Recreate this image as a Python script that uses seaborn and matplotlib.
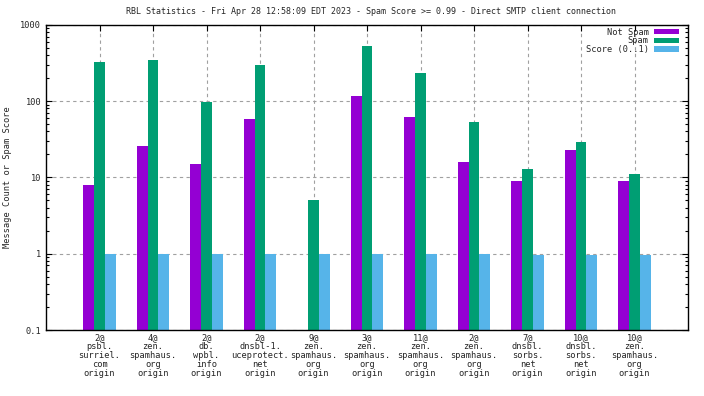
import numpy as np
import pandas as pd
import matplotlib
matplotlib.use("Agg")
import matplotlib.pyplot as plt
from matplotlib.ticker import FixedLocator, FixedFormatter, LogLocator, NullFormatter
import seaborn as sns

categories = [
    "2@\npsbl.\nsurriel.\ncom\norigin",
    "4@\nzen.\nspamhaus.\norg\norigin",
    "2@\ndb.\nwpbl.\ninfo\norigin",
    "2@\ndnsbl-1.\nuceprotect.\nnet\norigin",
    "9@\nzen.\nspamhaus.\norg\norigin",
    "3@\nzen.\nspamhaus.\norg\norigin",
    "11@\nzen.\nspamhaus.\norg\norigin",
    "2@\nzen.\nspamhaus.\norg\norigin",
    "7@\ndnsbl.\nsorbs.\nnet\norigin",
    "10@\ndnsbl.\nsorbs.\nnet\norigin",
    "10@\nzen.\nspamhaus.\norg\norigin",
]
not_spam = [8, 26, 15, 58, 0, 116, 62, 16, 9, 23, 9]
spam = [320, 344, 97, 295, 5, 525, 232, 53, 13, 29, 11]
score = [1, 1, 1, 1, 1, 1, 1, 1, 0.97, 0.97, 0.97]
series_names = ["Not Spam", "Spam", "Score (0..1)"]
colors = ["#9400d3", "#009e73", "#56b4e9"]
yticks = [0.1, 1, 10, 100, 1000]
ytick_labels = ["0.1", "1", "10", "100", "1000"]

rows = []
for name, vals in zip(series_names, [not_spam, spam, score]):
    for c, v in zip(categories, vals):
        rows.append({"cat": c, "series": name, "value": v})
df = pd.DataFrame(rows)

sns.set_style("white")
plt.rcParams["font.family"] = ["DejaVu Sans Mono"]
plt.rcParams["font.size"] = 6

fig = plt.figure(figsize=(7.04, 3.96), dpi=100)
ax_w = 688 - 45.5
ax = fig.add_axes([45.5 / 704, 1 - 330 / 396, ax_w / 704, (330 - 24.7) / 396])

sns.barplot(data=df, x="cat", y="value", hue="series", hue_order=series_names,
            order=categories, palette=colors, width=0.6, errorbar=None,
            saturation=1, ax=ax, linewidth=0)

ax.set_yscale("log")
ax.set_ylim(0.1, 1000)
ax.set_xlim(-1.01, 11.0)

ax.yaxis.set_major_locator(FixedLocator(yticks))
ax.yaxis.set_major_formatter(FixedFormatter(ytick_labels))
ax.yaxis.set_minor_locator(LogLocator(base=10, subs=np.arange(2, 10), numticks=20))
ax.yaxis.set_minor_formatter(NullFormatter())

ax.tick_params(axis="both", which="both", direction="in", labelsize=6.2,
               top=True, right=True, bottom=True, left=True, color="black")
ax.tick_params(axis="y", which="major", length=4, width=0.8, pad=3)
ax.tick_params(axis="y", which="minor", length=2, width=0.8)
ax.tick_params(axis="x", which="major", length=4, width=0.8, pad=2.5)
for lbl in ax.get_xticklabels():
    lbl.set_linespacing(0.98)
    lbl.set_ha("center")

ax.grid(True, which="major", axis="both", color="#a0a0a0", linestyle=(0, (3, 3)), linewidth=0.8)
ax.set_axisbelow(True)
for s in ax.spines.values():
    s.set_visible(True)
    s.set_color("black")
    s.set_linewidth(1.0)

ax.set_xlabel("")
ax.set_ylabel("Message Count or Spam Score", fontsize=6.2)
ax.yaxis.set_label_coords(-(45.5 - 12.5) / ax_w, 0.5)

fig.suptitle("RBL Statistics - Fri Apr 28 12:58:09 EDT 2023 - Spam Score >= 0.99 - Direct SMTP client connection",
             fontsize=6.0, y=1 - 12 / 396, va="center", x=371 / 704)

ax.legend(loc="upper right", markerfirst=False, frameon=False, fontsize=6.2,
          handlelength=2.9, handleheight=0.6, labelspacing=-0.05, handletextpad=0.6,
          bbox_to_anchor=(1 - 9 / ax_w, 1 - 3 / 305.3), borderaxespad=0, borderpad=0)

fig.savefig("out.png", dpi=100)
